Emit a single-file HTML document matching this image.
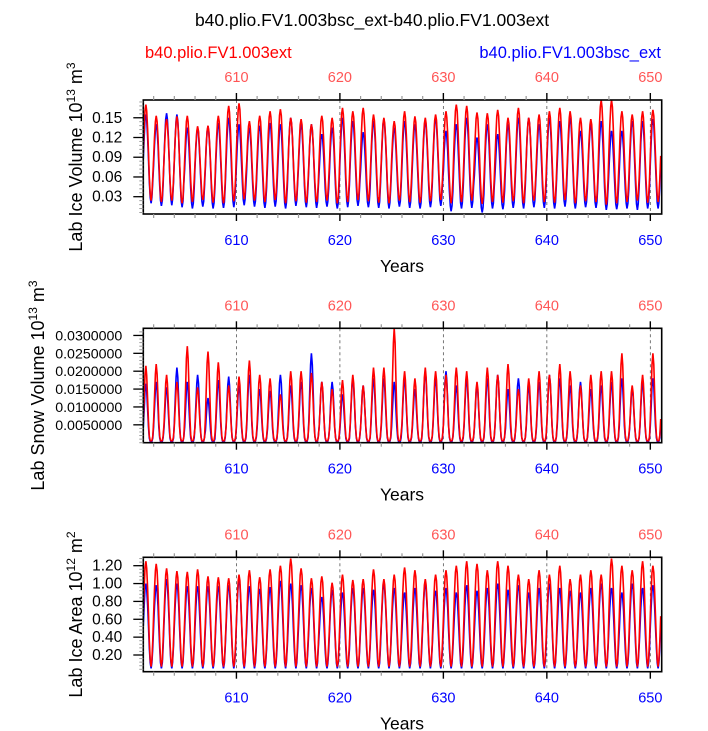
<!DOCTYPE html>
<html><head><meta charset="utf-8"><style>
body{margin:0;background:#fff;}
svg{display:block;font-family:"Liberation Sans",sans-serif;}
</style></head><body>
<svg id="c" width="708" height="731" viewBox="0 0 708 731">
<text x="372" y="26" text-anchor="middle" font-size="17.5">b40.plio.FV1.003bsc_ext-b40.plio.FV1.003ext</text>
<text x="145" y="58" font-size="16.5" fill="#ff0000">b40.plio.FV1.003ext</text>
<text x="661" y="58" text-anchor="end" font-size="16.5" fill="#0000ff">b40.plio.FV1.003bsc_ext</text>
</svg>
<script>
const years = [610,620,630,640,650];
const ticks1 = [0.03,0.06,0.09,0.12,0.15];
const tickLabels1 = ["0.03","0.06","0.09","0.12","0.15"];
const ticks2 = [0.005,0.01,0.015,0.02,0.025,0.03];
const tickLabels2 = ["0.0050000","0.0100000","0.0150000","0.0200000","0.0250000","0.0300000"];
const ticks3 = [0.2,0.4,0.6,0.8,1.0,1.2];
const tickLabels3 = ["0.20","0.40","0.60","0.80","1.00","1.20"];
// annual peaks (years 601..650) and minima
const volRedMax = [0.17,0.153,0.148,0.152,0.153,0.137,0.138,0.153,0.168,0.172,0.145,0.153,0.160,0.163,0.150,0.148,0.140,0.153,0.150,0.165,0.160,0.165,0.155,0.150,0.145,0.160,0.152,0.150,0.155,0.160,0.170,0.168,0.158,0.157,0.162,0.150,0.165,0.150,0.155,0.160,0.165,0.160,0.150,0.148,0.177,0.177,0.160,0.155,0.160,0.162];
const volBlueMax = [0.155,0.140,0.157,0.155,0.135,0.135,0.137,0.142,0.150,0.140,0.135,0.138,0.142,0.140,0.150,0.140,0.140,0.125,0.135,0.150,0.145,0.128,0.145,0.148,0.135,0.145,0.140,0.145,0.150,0.130,0.140,0.150,0.120,0.140,0.125,0.140,0.150,0.150,0.140,0.150,0.145,0.150,0.130,0.140,0.145,0.130,0.130,0.145,0.145,0.148];
const volRedMin = [0.024,0.022,0.024,0.020,0.022,0.025,0.021,0.020,0.023,0.026,0.024,0.022,0.025,0.020,0.023,0.021,0.022,0.024,0.020,0.022,0.025,0.023,0.021,0.020,0.024,0.022,0.021,0.023,0.025,0.020,0.022,0.024,0.019,0.022,0.021,0.023,0.020,0.024,0.022,0.021,0.025,0.020,0.023,0.022,0.018,0.020,0.022,0.024,0.021,0.022];
const volBlueMin = [0.020,0.016,0.017,0.014,0.012,0.015,0.012,0.013,0.014,0.017,0.015,0.013,0.015,0.012,0.016,0.014,0.013,0.015,0.012,0.014,0.016,0.014,0.013,0.012,0.015,0.013,0.012,0.014,0.016,0.008,0.012,0.013,0.006,0.012,0.011,0.013,0.012,0.014,0.013,0.012,0.015,0.012,0.014,0.013,0.010,0.011,0.012,0.010,0.012,0.012];
const snowRedMax = [0.0215,0.022,0.019,0.017,0.027,0.0155,0.0255,0.0225,0.016,0.0185,0.023,0.019,0.018,0.0135,0.020,0.020,0.0195,0.017,0.015,0.0175,0.019,0.016,0.021,0.021,0.032,0.020,0.018,0.021,0.020,0.019,0.021,0.020,0.017,0.021,0.019,0.022,0.015,0.018,0.020,0.019,0.022,0.020,0.016,0.019,0.020,0.020,0.025,0.016,0.019,0.025];
const snowBlueMax = [0.0165,0.017,0.0155,0.021,0.017,0.019,0.0125,0.0175,0.0185,0.016,0.019,0.015,0.0145,0.019,0.016,0.017,0.025,0.017,0.017,0.0135,0.018,0.016,0.018,0.018,0.017,0.018,0.015,0.020,0.018,0.020,0.016,0.018,0.016,0.018,0.019,0.015,0.018,0.016,0.017,0.019,0.018,0.016,0.017,0.015,0.016,0.017,0.018,0.015,0.017,0.018];
const snowRedMin = [0.0005];
const snowBlueMin = [0.0003];
const areaRedMax = [1.25,1.22,1.17,1.14,1.13,1.16,1.08,1.07,1.06,1.10,1.15,1.07,1.16,1.20,1.28,1.17,1.06,1.08,1.01,1.10,1.04,1.05,1.16,1.05,1.10,1.18,1.15,1.05,1.10,1.15,1.20,1.25,1.22,1.15,1.25,1.20,1.10,1.05,1.15,1.10,1.20,1.05,1.10,1.15,1.10,1.28,1.20,1.15,1.25,1.20];
const areaBlueMax = [1.0,0.98,1.05,1.0,0.97,0.97,0.97,0.97,0.98,1.05,0.97,0.94,0.96,1.03,1.0,0.98,0.95,0.85,0.93,0.9,0.95,0.95,0.93,1.0,0.95,0.9,0.95,1.0,0.92,0.95,0.9,0.98,0.92,0.95,1.0,0.93,0.98,0.9,0.95,1.0,0.95,0.92,0.9,0.95,1.0,0.95,0.9,1.0,0.95,0.98];
const areaRedMin = [0.07];
const areaBlueMin = [0.05];

const NS="http://www.w3.org/2000/svg";
const svg=document.getElementById('c');
function mk(tag,attrs,parent){const e=document.createElementNS(NS,tag);for(const k in attrs)e.setAttribute(k,attrs[k]);(parent||svg).appendChild(e);return e;}
const X0=143.3, X1=661.7, T0=601.0, T1=651.1;
const xs=t=>X0+(t-T0)/(T1-T0)*(X1-X0);

const panels=[
 {top:100,bot:214,ymin:0.0037,ymax:0.177,ticks:ticks1,labels:tickLabels1,minor:0.006,fs:15.5,tx:82,
  red:[volRedMax,volRedMin],blue:[volBlueMax,volBlueMin],pw:1.0,ytitle:["Lab Ice Volume 10","13"," m","3"]},
 {top:328.3,bot:442.7,ymin:0.0,ymax:0.032,ticks:ticks2,labels:tickLabels2,minor:0.001,fs:14.2,tx:44,
  red:[snowRedMax,snowRedMin],blue:[snowBlueMax,snowBlueMin],pw:2.0,ytitle:["Lab Snow Volume 10","13"," m","3"]},
 {top:557.3,bot:671.7,ymin:0.013,ymax:1.294,ticks:ticks3,labels:tickLabels3,minor:0.04,fs:15.5,tx:82,
  red:[areaRedMax,areaRedMin],blue:[areaBlueMax,areaBlueMin],pw:1.0,ytitle:["Lab Ice Area 10","12"," m","2"]}
];

function series(maxA,minA,pw){
  const pts=[];
  for(let m=0;m<=600;m++){
    const t=T0+m/12;
    const yr=Math.min(49,Math.floor(m/12));
    const ph=((m/12)-0.25)*2*Math.PI;
    let s=0.5+0.5*Math.cos(ph);
    s=Math.pow(s,pw);
    const mn=minA[Math.min(yr,minA.length-1)];
    pts.push([t,mn+(maxA[yr]-mn)*s]);
  }
  return pts;
}

panels.forEach((p,i)=>{
  const g=mk('g',{});
  
  
  const ys=v=>p.bot-(v-p.ymin)/(p.ymax-p.ymin)*(p.bot-p.top);
  years.forEach(y=>{const l=mk('line',{x1:xs(y),x2:xs(y),y1:p.top,y2:p.bot,stroke:'#555','stroke-width':0.8,'stroke-dasharray':'3,3'},g);
    });
  const clip=mk('clipPath',{id:'cp'+i},g);
  mk('rect',{x:X0,y:p.top,width:X1-X0,height:p.bot-p.top},clip);
  [['blue','#0000ff',p.blue],['red','#ff0000',p.red]].forEach(([nm,col,d])=>{
    const pts=series(d[0],d[1],p.pw);
    const path=mk('path',{d:'M'+pts.map(q=>xs(q[0]).toFixed(1)+','+ys(q[1]).toFixed(1)).join('L'),fill:'none',stroke:col,'stroke-width':1.6,'clip-path':'url(#cp'+i+')'},g);
    
    
  });
  mk('rect',{x:X0,y:p.top,width:X1-X0,height:p.bot-p.top,fill:'none',stroke:'#000','stroke-width':1.6},g);
  for(let y=602;y<=650;y+=2){
    const maj=y%10===0, len=maj?7:4;
    mk('line',{x1:xs(y),x2:xs(y),y1:p.top,y2:p.top-len,stroke:maj?'#000':'#999','stroke-width':maj?1.4:1.2},g);
    mk('line',{x1:xs(y),x2:xs(y),y1:p.bot,y2:p.bot+len,stroke:maj?'#000':'#999','stroke-width':maj?1.4:1.2},g);
  }
  years.forEach(y=>{
    const a=mk('text',{x:xs(y),y:p.top-18,'text-anchor':'middle','font-size':14.5,fill:'#ff5555'},g);a.textContent=y;
    
    const b=mk('text',{x:xs(y),y:p.bot+31,'text-anchor':'middle','font-size':14.5,fill:'#0000ff'},g);b.textContent=y;
    
  });
  const xt=mk('text',{x:402,y:p.bot+58,'text-anchor':'middle','font-size':17.5},g);xt.textContent='Years';
  
  for(let v=Math.ceil(p.ymin/p.minor)*p.minor;v<=p.ymax;v+=p.minor){
    mk('line',{x1:X0,x2:X0-4,y1:ys(v),y2:ys(v),stroke:'#999','stroke-width':1},g);
  }
  p.ticks.forEach((v,k)=>{
    mk('line',{x1:X0,x2:X0-10,y1:ys(v),y2:ys(v),stroke:'#000','stroke-width':1.3},g);
    const t=mk('text',{x:X0-21,y:ys(v)+5,'text-anchor':'end','font-size':p.fs},g);t.textContent=p.labels[k];
    
  });
  const cy=(p.top+p.bot)/2;
  const yt=mk('text',{transform:`translate(${p.tx},${cy}) rotate(-90)`,'text-anchor':'middle','font-size':18},g);
  
  const [a,b,c,d]=p.ytitle;
  const s1=mk('tspan',{},yt);s1.textContent=a;
  const s2=mk('tspan',{dy:-7,'font-size':12},yt);s2.textContent=b;
  const s3=mk('tspan',{dy:7},yt);s3.textContent=c;
  const s4=mk('tspan',{dy:-7,'font-size':12},yt);s4.textContent=d;
});
</script>
</body></html>
